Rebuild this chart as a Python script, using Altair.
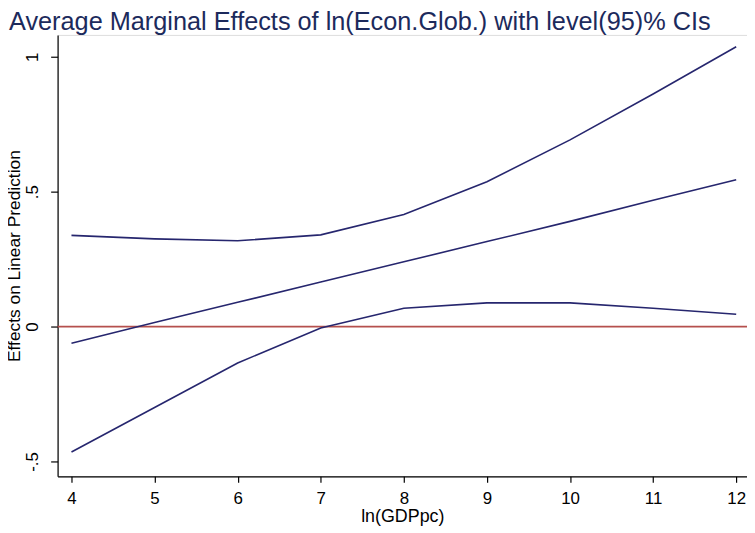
import altair as alt
import pandas as pd

# ln(GDPpc) grid
x_vals = [4, 5, 6, 7, 8, 9, 10, 11, 12]
# average marginal effect and 95% CI bounds
ame = [-0.062, 0.015, 0.090, 0.165, 0.240, 0.315, 0.390, 0.468, 0.544]
upper = [0.338, 0.325, 0.318, 0.340, 0.415, 0.537, 0.692, 0.862, 1.037]
lower = [-0.465, -0.300, -0.135, -0.005, 0.068, 0.088, 0.088, 0.068, 0.046]

x_ticks = [4, 5, 6, 7, 8, 9, 10, 11, 12]
y_ticks = [-0.5, 0, 0.5, 1]

rows = []
for name, vals in [("upper", upper), ("ame", ame), ("lower", lower)]:
    for xv, yv in zip(x_vals, vals):
        rows.append({"x": xv, "y": yv, "series": name})
df = pd.DataFrame(rows)
zero_df = pd.DataFrame({"y": [0]})

FONT = "Liberation Sans"
NAVY = "#26266e"

xscale = alt.Scale(domain=[3.833, 12.13], nice=False, zero=False)
yscale = alt.Scale(domain=[-0.555, 1.081], nice=False, zero=False)

xaxis = alt.Axis(
    values=x_ticks, title="ln(GDPpc)", grid=False, domainColor="#000000",
    tickColor="#000000", tickSize=6, labelFontSize=17, labelFont=FONT,
    labelColor="#000000", titleFont=FONT, titleFontSize=18,
    titleFontWeight="normal", titleColor="#000000", labelPadding=8,
    titlePadding=2, domainWidth=1.2, tickWidth=1.2,
)
yaxis = alt.Axis(
    values=y_ticks, title="Effects on Linear Prediction", grid=False,
    domainColor="#000000", tickColor="#000000", tickSize=7,
    labelFontSize=17, labelFont=FONT, labelColor="#000000",
    labelAngle=270,
    labelExpr="datum.value == 0 ? '0' : replace(toString(datum.value), '0.', '.')",
    titleFont=FONT, titleFontSize=17.5, titleFontWeight="normal",
    titleColor="#000000", labelPadding=9, titlePadding=0,
    domainWidth=1.2, tickWidth=1.2,
)

zero = alt.Chart(zero_df).mark_rule(color="#b5504d", strokeWidth=1.8).encode(
    y=alt.Y("y:Q", scale=yscale, axis=yaxis)
)

lines = alt.Chart(df).mark_line(color=NAVY, strokeWidth=1.6).encode(
    x=alt.X("x:Q", scale=xscale, axis=xaxis),
    y=alt.Y("y:Q", scale=yscale, axis=yaxis),
    detail="series:N",
)

chart = (
    alt.layer(zero, lines)
    .properties(
        width=695,
        height=445,
        autosize=alt.AutoSizeParams(type="none"),
        padding={"left": 50, "top": 25, "right": 0, "bottom": 55},
        title=alt.TitleParams(
            "Average Marginal Effects of ln(Econ.Glob.) with level(95)% CIs",
            anchor="start", frame="group", dx=-49, offset=-21,
            baseline="alphabetic", font=FONT, fontSize=25.5,
            fontWeight="normal", color="#1c2a5c",
        ),
    )
    .configure_view(strokeWidth=0)
    .configure(background="#ffffff")
)

chart.save("out.html", embed_options={"renderer": "svg", "actions": False})
